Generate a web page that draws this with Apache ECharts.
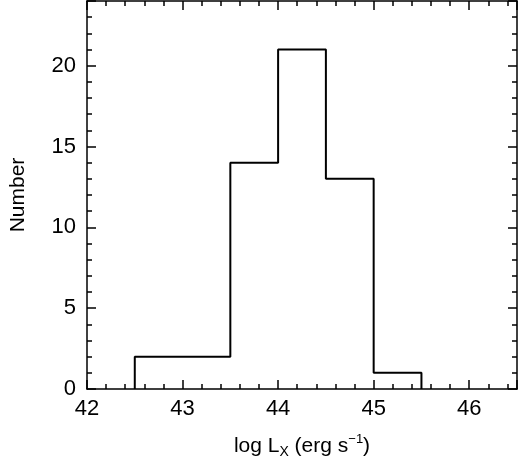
<!DOCTYPE html>
<html><head><meta charset="utf-8">
<script src="https://cdn.jsdelivr.net/npm/echarts@6/dist/echarts.min.js"></script>
<style>html,body{margin:0;padding:0;background:#fff}#c{width:520px;height:464px}</style>
</head><body><div id="c"></div>
<script>
// histogram bins
var binEdges = [42.5, 43.0, 43.5, 44.0, 44.5, 45.0, 45.5];
var binCounts = [2, 2, 14, 21, 13, 1];

// step outline built from the bins
var pts = [];
for (var i = 0; i < binCounts.length; i++) {
	if (i == 0) pts.push([binEdges[0], 0]);
	pts.push([binEdges[i], binCounts[i]]);
	pts.push([binEdges[i + 1], binCounts[i]]);
}
pts.push([binEdges[binEdges.length - 1], 0]);

var font = 'Liberation Sans, Arial, sans-serif';
var tickIn = {show: true, inside: true, length: 9, lineStyle: {color: '#000', width: 1.5}};
var minorIn = {show: true, splitNumber: 5, length: 5, lineStyle: {color: '#000', width: 1.5}};
var line = {show: true, onZero: false, lineStyle: {color: '#000', width: 1.5}};

var chart = echarts.init(document.getElementById('c'));
chart.setOption({
	animation: false,
	grid: {left: 82, right: 1, top: 1, bottom: 67, containLabel: false},
	xAxis: [{
		type: 'value', min: 42, max: 46.5, interval: 1,
		axisLine: line, axisTick: tickIn, minorTick: minorIn, splitLine: {show: false},
		axisLabel: {color: '#000', fontSize: 22, fontFamily: font, margin: 9,
			formatter: function (v) { return v % 1 == 0 ? v : ''; }},
		name: '{a|log L}{s|X}{a| (erg s}{u|−1}{a|)}', nameLocation: 'middle', nameGap: 44,
		nameTextStyle: {rich: {
			a: {fontSize: 21, fontFamily: font, color: '#000'},
			s: {fontSize: 14, fontFamily: font, color: '#000', verticalAlign: 'bottom', padding: [12, 0, 0, 0]},
			u: {fontSize: 13, fontFamily: font, color: '#000', verticalAlign: 'top', padding: [0, 0, 8, 0]}
		}}
	}, {
		type: 'value', min: 42, max: 46.5, interval: 1, position: 'top',
		axisLine: line, axisTick: tickIn, minorTick: minorIn, splitLine: {show: false},
		axisLabel: {show: false}
	}],
	yAxis: [{
		type: 'value', min: 0, max: 24, interval: 5,
		axisLine: line, axisTick: tickIn, minorTick: minorIn, splitLine: {show: false},
		axisLabel: {color: '#000', fontSize: 22, fontFamily: font, margin: 11,
			formatter: function (v) { return v % 5 == 0 ? v : ''; }},
		name: 'Number', nameLocation: 'middle', nameGap: 58,
		nameTextStyle: {fontSize: 21, fontFamily: font, color: '#000'}
	}, {
		type: 'value', min: 0, max: 24, interval: 5, position: 'right',
		axisLine: line, axisTick: tickIn, minorTick: minorIn, splitLine: {show: false},
		axisLabel: {show: false}
	}],
	series: [{
		type: 'line', data: pts, symbol: 'none',
		lineStyle: {color: '#000', width: 2}
	}]
});
</script></body></html>
